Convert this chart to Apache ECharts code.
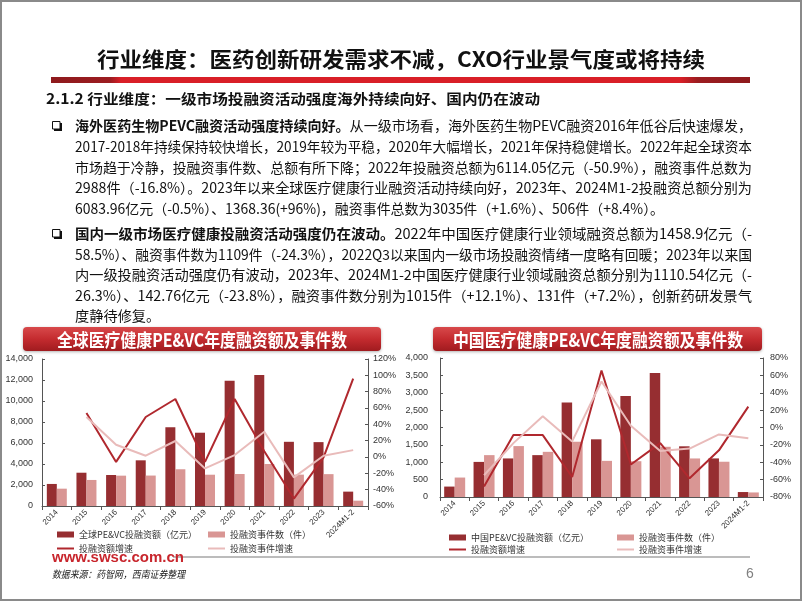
<!DOCTYPE html>
<html><head><meta charset="utf-8">
<script src="https://cdn.jsdelivr.net/npm/echarts@6/dist/echarts.min.js"></script>
<style>html,body{margin:0;padding:0;background:#fff}#c{width:802px;height:602px}</style>
</head><body><div id="c"></div>
<script>
// ---------- data ----------
const categories = ['2014','2015','2016','2017','2018','2019','2020','2021','2022','2023','2024M1-2'];
const globalAmount = [2100,3170,2950,4350,7500,6980,11930,12480,6114.05,6083.96,1368.36];
const globalEvents = [1650,2480,2890,2900,3500,2980,3050,4000,2988,3035,506];
const globalAmountGrowth = [null,54,-6,49,71,-6,71,7,-50.9,-0.5,96];
const globalEventsGrowth = [null,49,15,1.6,19.6,-14,2.4,31,-25,1.6,8.4];
const chinaAmount = [300,1010,1110,1205,2717,1660,2910,3566,1458.9,1110.54,142.76];
const chinaEvents = [560,1205,1465,1300,1590,1040,1030,1445,1109,1015,131];
const chinaAmountGrowth = [null,-68,-8.7,-8.7,-57,65.7,-42.6,-18,-58.5,-26.3,24];
const chinaEventsGrowth = [null,-55,-18,13,-16,53,2,-27,-24.3,-8,-12.5];
const globalLeftAxis = {min:0,max:14000,interval:2000};
const globalRightAxis = {min:-60,max:120,interval:20};
const chinaLeftAxis = {min:0,max:4000,interval:500};
const chinaRightAxis = {min:-80,max:80,interval:20};

const titleText = '行业维度：医药创新研发需求不减，CXO行业景气度或将持续';
const subTitleText = '2.1.2 行业维度：一级市场投融资活动强度海外持续向好、国内仍在波动';
const para1 = [
 ['海外医药生物PEVC融资活动强度持续向好。','从一级市场看，海外医药生物PEVC融资2016年低谷后快速爆发，'],
 ['','2017-2018年持续保持较快增长，2019年较为平稳，2020年大幅增长，2021年保持稳健增长。2022年起全球资本'],
 ['','市场趋于冷静，投融资事件数、总额有所下降；2022年投融资总额为6114.05亿元（-50.9%），融资事件总数为'],
 ['','2988件（-16.8%）。2023年以来全球医疗健康行业融资活动持续向好，2023年、2024M1-2投融资总额分别为'],
 ['','6083.96亿元（-0.5%）、1368.36(+96%)，融资事件总数为3035件（+1.6%）、506件（+8.4%）。']
];
const para2 = [
 ['国内一级市场医疗健康投融资活动强度仍在波动。','2022年中国医疗健康行业领域融资总额为1458.9亿元（-'],
 ['','58.5%）、融资事件数为1109件（-24.3%），2022Q3以来国内一级市场投融资情绪一度略有回暖；2023年以来国'],
 ['','内一级投融资活动强度仍有波动，2023年、2024M1-2中国医疗健康行业领域融资总额分别为1110.54亿元（-'],
 ['','26.3%）、142.76亿元（-23.8%），融资事件数分别为1015件（+12.1%）、131件（+7.2%），创新药研发景气'],
 ['','度静待修复。']
];

// ---------- styles ----------
const FF = '"Noto Sans CJK SC", "Noto Sans", sans-serif';
const AF = '"Liberation Sans", Arial, sans-serif';
const C_DARK = '#962E31', C_LIGHT = '#D99694', C_LDARK = '#B0282E', C_LLIGHT = '#E9BBBA';
const AX = '#555';

const ctx = document.createElement('canvas').getContext('2d');
function mw(text, size, weight, family){ ctx.font = (weight||'normal')+' '+size+'px '+(family||FF); return ctx.measureText(text).width; }

const graphic = [];
// slide border
graphic.push({type:'rect', shape:{x:1,y:1,width:800,height:599}, style:{fill:'none',stroke:'#8a8a8a',lineWidth:2}, z:0});
// title
(function(){
  const w = mw(titleText,21,'bold');
  graphic.push({type:'text', x:401, y:59, scaleX:608/w, style:{text:titleText, fontSize:21, fontWeight:'bold', fontFamily:FF, fill:'#111', align:'center', verticalAlign:'middle'}, z:10});
})();
// red bar
graphic.push({type:'rect', shape:{x:51,y:77,width:699,height:6}, style:{fill:new echarts.graphic.LinearGradient(0,0,1,0,[
  {offset:0,color:'#8e1a1d'},{offset:0.085,color:'#9c1c20'},{offset:0.1,color:'#d91f27'},{offset:0.9,color:'#d91f27'},{offset:0.925,color:'#9c1c20'},{offset:1,color:'#8e1a1d'}])}, z:5});
// subtitle
(function(){
  const w = mw(subTitleText,14,'bold');
  graphic.push({type:'text', x:46, y:99, scaleX:494/w, style:{text:subTitleText, fontSize:14, fontWeight:'bold', fontFamily:FF, fill:'#111', align:'left', verticalAlign:'middle'}, z:10});
})();
// paragraphs
function addPara(lines, y0, dy){
  const FS = 14, X0 = 75, W = 677;
  const scales = [];
  lines.forEach((ln,i)=>{
    if(i < lines.length-1){
      const w = mw(ln[0],FS,'bold') + mw(ln[1],FS,'normal');
      scales.push(W/w);
    }
  });
  const avg = scales.reduce((a,b)=>a+b,0)/scales.length;
  lines.forEach((ln,i)=>{
    const s = i < lines.length-1 ? scales[i] : avg;
    const y = y0 + i*dy;
    let x = X0;
    if(ln[0]){
      graphic.push({type:'text', x:x, y:y, scaleX:s, style:{text:ln[0], fontSize:FS, fontWeight:'bold', fontFamily:FF, fill:'#111', align:'left', verticalAlign:'middle'}, z:10});
      x += mw(ln[0],FS,'bold')*s;
    }
    graphic.push({type:'text', x:x, y:y, scaleX:s, style:{text:ln[1], fontSize:FS, fontWeight:'normal', fontFamily:FF, fill:'#111', align:'left', verticalAlign:'middle'}, z:10});
  });
  // bullet (shadowed square)
  graphic.push({type:'rect', shape:{x:54,y:y0-3,width:8,height:8}, style:{fill:'#111'}, z:10});
  graphic.push({type:'rect', shape:{x:52.5,y:y0-4.5,width:7.5,height:7.5}, style:{fill:'#fff',stroke:'#111',lineWidth:1}, z:11});
}
addPara(para1, 126, 20.7);
addPara(para2, 234, 20.4);
// chart banners
function banner(x, w, text, cx){
  graphic.push({type:'rect', shape:{x:x,y:327,width:w,height:24,r:4}, style:{fill:new echarts.graphic.LinearGradient(0,0,0,1,[
    {offset:0,color:'#d8494b'},{offset:0.5,color:'#c42b2f'},{offset:1,color:'#a01b1f'}]), shadowBlur:3, shadowColor:'rgba(0,0,0,0.3)', shadowOffsetY:1}, z:5});
  const tw = mw(text,18,'bold');
  graphic.push({type:'text', x:cx, y:340, scaleX:290/tw, style:{text:text, fontSize:18, fontWeight:'bold', fontFamily:FF, fill:'#fff', align:'center', verticalAlign:'middle'}, z:10});
}
banner(23, 358, '全球医疗健康PE&VC年度融资额及事件数', 202);
banner(433, 329, '中国医疗健康PE&VC年度融资额及事件数', 598);
// footer
graphic.push({type:'text', x:52, y:558, style:{text:'www.swsc.com.cn', fontSize:15, fontWeight:'bold', fontFamily:AF, fill:'#C8262D', align:'left', verticalAlign:'middle'}, z:10});
graphic.push({type:'line', shape:{x1:173,y1:557,x2:750,y2:557}, style:{stroke:'#a6a6a6',lineWidth:1.5}, z:5});
(function(){
  const t = '数据来源：药智网，西南证券整理';
  const w = mw(t,10,'normal');
  graphic.push({type:'text', x:52, y:574, scaleX:133/w, style:{text:t, fontSize:10, fontStyle:'italic', fontFamily:FF, fill:'#222', align:'left', verticalAlign:'middle'}, z:10});
})();
graphic.push({type:'text', x:750, y:574, style:{text:'6', fontSize:14, fontFamily:AF, fill:'#808080', align:'center', verticalAlign:'middle'}, z:10});

// ---------- chart ----------
const labelFont = {fontFamily:AF, fontSize:9, color:'#333'};
function valueAxis(grid, cfg, pos, margin, pct){
  return Object.assign({gridIndex:grid, type:'value', position:pos,
    axisLine:{show:true, lineStyle:{color:AX}}, axisTick:{show:true, inside:true, length:3, lineStyle:{color:AX}},
    splitLine:{show:false},
    axisLabel:Object.assign({margin:margin, formatter: pct ? (v=>v+'%') : (v=>v.toLocaleString('en-US'))}, labelFont)}, cfg);
}
function catAxis(grid){
  return {gridIndex:grid, type:'category', data:categories,
    axisLine:{lineStyle:{color:AX}}, axisTick:{show:true, length:4, lineStyle:{color:AX}},
    axisLabel:{rotate:45, interval:0, fontFamily:AF, fontSize:8, color:'#333', margin:5}};
}
function bar(name, data, xi, yi, color, bw){
  return {name:name, type:'bar', xAxisIndex:xi, yAxisIndex:yi, data:data, barWidth:bw, barGap:'0%', itemStyle:{color:color}, z:2};
}
function line(name, data, xi, yi, color, w){
  return {name:name, type:'line', xAxisIndex:xi, yAxisIndex:yi, data:data, symbol:'none', connectNulls:false,
    lineStyle:{color:color, width:w}, itemStyle:{color:color}, z:3};
}
function lg(name, left, top, h){
  return {show:true, left:left, top:top, padding:0, itemGap:0, itemWidth:17, itemHeight:h, icon:'rect', selectedMode:false,
    data:[name], textStyle:{fontSize:9, fontFamily:FF, color:'#333'}};
}

const option = {
  animation:false,
  backgroundColor:'#fff',
  grid:[
    {left:42, right:434, top:359, bottom:96},
    {left:440, right:39, top:358, bottom:105}
  ],
  xAxis:[catAxis(0), catAxis(1)],
  yAxis:[
    valueAxis(0, globalLeftAxis, 'left', 9, false),
    valueAxis(0, globalRightAxis, 'right', 5, true),
    valueAxis(1, chinaLeftAxis, 'left', 12, false),
    valueAxis(1, chinaRightAxis, 'right', 7, true)
  ],
  legend:[
    lg('全球PE&VC投融资额（亿元）', 57, 530, 6),
    lg('投融资事件数（件）', 208, 530, 6),
    lg('投融资额增速', 57, 544, 2),
    lg('投融资事件增速', 208, 544, 2),
    lg('中国PE&VC投融资额（亿元）', 449, 533, 6),
    lg('投融资事件数（件）', 617, 533, 6),
    lg('投融资额增速', 449, 545, 2),
    lg('投融资事件增速', 617, 545, 2)
  ],
  graphic: graphic,
  series:[
    bar('全球PE&VC投融资额（亿元）', globalAmount, 0, 0, C_DARK, 10),
    bar('投融资事件数（件）', globalEvents, 0, 0, C_LIGHT, 10),
    line('投融资额增速', globalAmountGrowth, 0, 1, C_LDARK, 2),
    line('投融资事件增速', globalEventsGrowth, 0, 1, C_LLIGHT, 2),
    bar('中国PE&VC投融资额（亿元）', chinaAmount, 1, 2, C_DARK, 10.5),
    bar('投融资事件数（件）', chinaEvents, 1, 2, C_LIGHT, 10.5),
    line('投融资额增速', chinaAmountGrowth, 1, 3, C_LDARK, 2),
    line('投融资事件增速', chinaEventsGrowth, 1, 3, C_LLIGHT, 2)
  ]
};
const chart = echarts.init(document.getElementById('c'), null, {renderer:'canvas'});
chart.setOption(option);
</script>
</body></html>
